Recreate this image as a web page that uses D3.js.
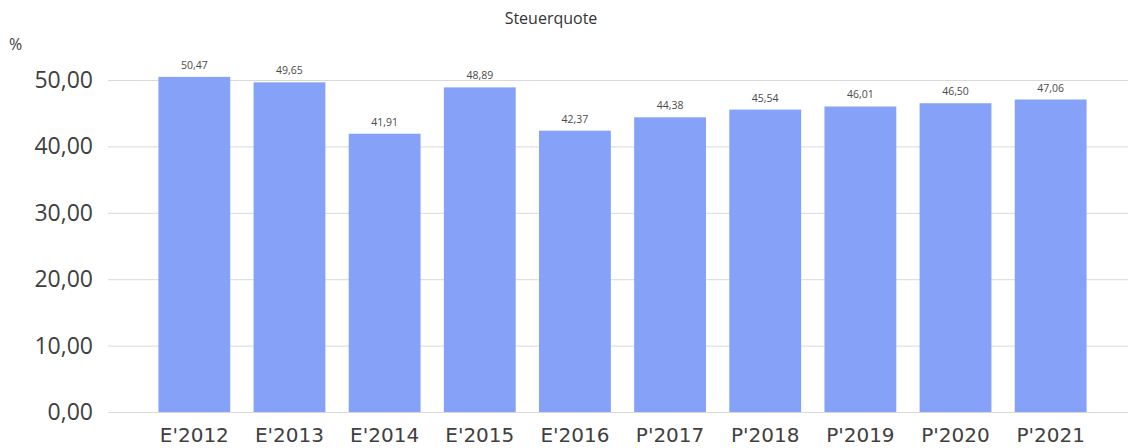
<!DOCTYPE html>
<html>
<head>
<meta charset="utf-8">
<script src="https://cdn.jsdelivr.net/npm/d3@7"></script>
<style>
  body { margin: 0; background: #fff; }
  svg { display: block; }
</style>
</head>
<body>
<div id="chart"></div>
<script>
const categories = ["E'2012", "E'2013", "E'2014", "E'2015", "E'2016", "P'2017", "P'2018", "P'2019", "P'2020", "P'2021"];
const values = [50.47, 49.65, 41.91, 48.89, 42.37, 44.38, 45.54, 46.01, 46.50, 47.06];
const yTicks = [0, 10, 20, 30, 40, 50];

const width = 1128, height = 448;
const fmt = v => d3.format(".2f")(v).replace(".", ",");

const svg = d3.select("#chart").append("svg")
  .attr("width", width)
  .attr("height", height);

const x = d3.scaleBand()
  .domain(categories)
  .range([147, 1098])
  .paddingInner(0.245)
  .paddingOuter(0.12);

const y = d3.scaleLinear()
  .domain([0, 50])
  .range([412, 80]);

// gridlines
svg.append("g")
  .selectAll("line")
  .data(yTicks)
  .join("line")
    .attr("x1", 108)
    .attr("x2", width)
    .attr("y1", d => y(d) + 0.5)
    .attr("y2", d => y(d) + 0.5)
    .attr("stroke", "#d9d9d9")
    .attr("stroke-width", 1);

// y axis labels
svg.append("g")
  .selectAll("text")
  .data(yTicks)
  .join("text")
    .attr("x", 93)
    .attr("y", d => y(d))
    .attr("dy", "0.35em")
    .attr("text-anchor", "end")
    .attr("font-family", "Open Sans")
    .attr("font-size", 23)
    .attr("fill", "#404040")
    .text(d => fmt(d));

// bars
svg.append("g")
  .selectAll("rect")
  .data(values)
  .join("rect")
    .attr("x", (d, i) => x(categories[i]))
    .attr("y", d => y(d))
    .attr("width", x.bandwidth())
    .attr("height", d => y(0) - y(d))
    .attr("fill", "#86a2f8");

// value labels
svg.append("g")
  .selectAll("text")
  .data(values)
  .join("text")
    .attr("x", (d, i) => x(categories[i]) + x.bandwidth() / 2)
    .attr("y", d => y(d) - 8)
    .attr("text-anchor", "middle")
    .attr("font-family", "Open Sans")
    .attr("font-size", 10.5)
    .attr("fill", "#4a4a4a")
    .text(d => fmt(d));

// x axis labels
svg.append("g")
  .selectAll("text")
  .data(categories)
  .join("text")
    .attr("x", d => x(d) + x.bandwidth() / 2)
    .attr("y", 442)
    .attr("text-anchor", "middle")
    .attr("font-family", "DejaVu Sans")
    .attr("font-size", 20)
    .attr("fill", "#404040")
    .text(d => d);

// title and unit
svg.append("text")
  .attr("x", 551)
  .attr("y", 24)
  .attr("text-anchor", "middle")
  .attr("font-family", "Open Sans")
  .attr("font-size", 16)
  .attr("fill", "#333")
  .text("Steuerquote");

svg.append("text")
  .attr("x", 9)
  .attr("y", 50)
  .attr("font-family", "Open Sans")
  .attr("font-size", 16)
  .attr("fill", "#404040")
  .text("%");
</script>
</body>
</html>
